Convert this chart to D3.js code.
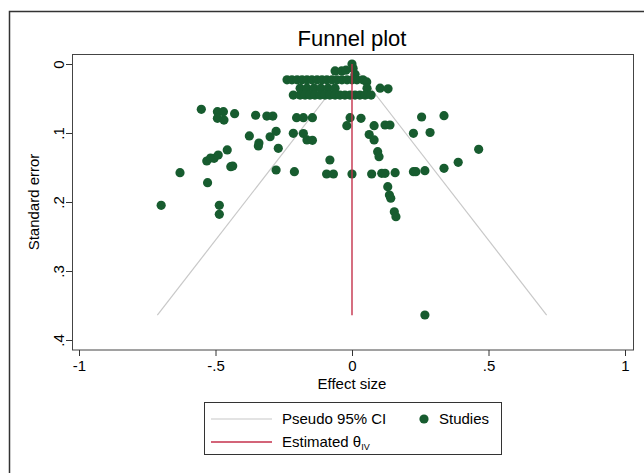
<!DOCTYPE html>
<html>
<head>
<meta charset="utf-8">
<script src="https://cdnjs.cloudflare.com/ajax/libs/d3/7.8.5/d3.min.js"></script>
<style>
  body { margin: 0; background: #fff; }
  text { font-family: "Liberation Sans", Arial, sans-serif; fill: #000; }
</style>
</head>
<body>
<div class="graph"></div>
<script>
// study effect sizes and standard errors
const effects = [
  0, 0.004, -0.062, -0.038, -0.022, 0.011,
  -0.238, -0.22, -0.201, -0.183, -0.165, -0.147, -0.128, -0.11, -0.092, -0.073, -0.055, -0.037, -0.018, 0, 0.018, 0.04, 0.054,
  -0.19, -0.165, -0.139, -0.114, -0.088, -0.062, 0.055, 0.103, 0.132,
  -0.215, -0.19, -0.172, -0.154, -0.136, -0.117, -0.099, -0.081, -0.062, -0.044, -0.026, -0.007, 0.011, 0.029, 0.048, 0.07,
  -0.552, -0.493, -0.471, -0.493, -0.469, -0.43, -0.353, -0.312, -0.29,
  -0.376, -0.3, -0.278, -0.341, -0.215, -0.178, -0.165, -0.145,
  -0.203, -0.178, -0.145, -0.343, -0.27, -0.457,
  -0.532, -0.518, -0.505, -0.49, -0.437, -0.444, -0.63, -0.529,
  -0.699, -0.486, -0.486, -0.278, -0.211, -0.081, -0.093, -0.068,
  -0.007, 0.033, -0.019, 0.081, 0.121, 0.139, 0.255, 0.337,
  0.225, 0.286, 0.063, 0.081,
  0, 0.072, 0.109, 0.121, 0.158, 0.225, 0.234, 0.267, 0.337, 0.389, 0.464,
  0.094, 0.099, 0.131, 0.137, 0.142, 0.155, 0.161, 0.267
];
const stdErrors = [
  0, 0.006, 0.01, 0.01, 0.009, 0.015,
  0.023, 0.023, 0.023, 0.023, 0.023, 0.023, 0.023, 0.023, 0.023, 0.023, 0.023, 0.023, 0.023, 0.023, 0.023, 0.023, 0.026,
  0.035, 0.035, 0.035, 0.035, 0.035, 0.035, 0.035, 0.035, 0.036,
  0.045, 0.045, 0.045, 0.045, 0.045, 0.045, 0.045, 0.045, 0.045, 0.045, 0.045, 0.045, 0.045, 0.045, 0.045, 0.045,
  0.0657, 0.0691, 0.0691, 0.0787, 0.0812, 0.072, 0.0743, 0.0754, 0.0754,
  0.1043, 0.1054, 0.0975, 0.1145, 0.1004, 0.1007, 0.1101, 0.1106,
  0.0778, 0.0778, 0.0778, 0.1188, 0.1222, 0.1246,
  0.1406, 0.1362, 0.1367, 0.1319, 0.1478, 0.1488, 0.1575, 0.172,
  0.2048, 0.2048, 0.2178, 0.1536, 0.1561, 0.1391, 0.1594, 0.1594,
  0.0778, 0.0787, 0.0894, 0.0894, 0.0884, 0.0884, 0.0768, 0.0749,
  0.1004, 0.0993, 0.1022, 0.1101,
  0.1594, 0.1594, 0.1584, 0.1584, 0.1575, 0.1561, 0.1561, 0.1546, 0.1512, 0.1425, 0.1236,
  0.1271, 0.1343, 0.1778, 0.1899, 0.1946, 0.2141, 0.2213, 0.3638
];
const xTicks = [-1, -0.5, 0, 0.5, 1];
const xTickLabels = ["-1", "-.5", "0", ".5", "1"];
const yTicks = [0, 0.1, 0.2, 0.3, 0.4];
const yTickLabels = ["0", ".1", ".2", ".3", ".4"];
// pseudo 95% CI end points and estimated effect
const ciLeft = [[0, 0], [-0.713, 0.364]];
const ciRight = [[0, 0], [0.713, 0.364]];
const thetaLine = [[0, 0], [0, 0.364]];

function main() {
  //setting
  const width = 644;
  const height = 473;
  const green = "#175c2f";
  const red = "#c4314b";
  const grey = "#c8c8c8";

  const svg = d3
    .select(".graph")
    .append("svg")
    .attr("width", width)
    .attr("height", height);

  //outer frame
  svg
    .append("path")
    .attr("d", "M9.5," + height + "V11.5H" + width)
    .attr("fill", "none")
    .attr("stroke", "#333")
    .attr("stroke-width", 1.5);

  //scales
  const xScale = d3.scaleLinear().domain([-1, 1]).range([79, 625]);
  const yScale = d3.scaleLinear().domain([0, 0.4]).range([64, 340]);

  //plot box
  svg
    .append("rect")
    .attr("x", 72.5)
    .attr("y", 54.5)
    .attr("width", 561)
    .attr("height", 295.5)
    .attr("fill", "none")
    .attr("stroke", "#444");

  //title
  svg
    .append("text")
    .attr("x", 352)
    .attr("y", 46)
    .attr("text-anchor", "middle")
    .style("font-size", "22px")
    .text("Funnel plot");

  //axes
  const xAxis = d3
    .axisBottom(xScale)
    .tickValues(xTicks)
    .tickSize(6)
    .tickPadding(4)
    .tickFormat((d, i) => xTickLabels[i]);
  const gx = svg
    .append("g")
    .attr("transform", "translate(0,350)")
    .call(xAxis);
  gx.select(".domain").remove();
  gx.selectAll("text").style("font-size", "15px");

  const yAxis = d3
    .axisLeft(yScale)
    .tickValues(yTicks)
    .tickSize(6)
    .tickFormat((d, i) => yTickLabels[i]);
  const gy = svg
    .append("g")
    .attr("transform", "translate(72,0)")
    .call(yAxis);
  gy.select(".domain").remove();
  gy.selectAll(".tick text")
    .attr("x", 0)
    .attr("dy", 0)
    .attr("text-anchor", "middle")
    .attr("transform", "translate(-8,0) rotate(-90)")
    .style("font-size", "15px");
  svg.selectAll(".tick line").attr("stroke", "#333");

  //axis titles
  svg
    .append("text")
    .attr("x", 352)
    .attr("y", 389)
    .attr("text-anchor", "middle")
    .style("font-size", "15px")
    .text("Effect size");
  svg
    .append("text")
    .attr("transform", "translate(39,202) rotate(-90)")
    .attr("text-anchor", "middle")
    .style("font-size", "15px")
    .text("Standard error");

  //funnel
  const line = d3
    .line()
    .x(d => xScale(d[0]))
    .y(d => yScale(d[1]));
  [ciLeft, ciRight].forEach(seg => {
    svg
      .append("path")
      .attr("d", line(seg))
      .attr("fill", "none")
      .attr("stroke", grey)
      .attr("stroke-width", 1.2);
  });

  //dots
  svg
    .selectAll("circle.dot")
    .data(effects)
    .enter()
    .append("circle")
    .attr("class", "dot")
    .attr("cx", d => xScale(d))
    .attr("cy", (d, i) => yScale(stdErrors[i]))
    .attr("r", 4.6)
    .style("fill", green);

  svg
    .append("path")
    .attr("d", line(thetaLine))
    .attr("fill", "none")
    .attr("stroke", red)
    .attr("stroke-width", 1.4);

  //legend
  const lg = svg.append("g");
  lg.append("rect")
    .attr("x", 204.5)
    .attr("y", 402.5)
    .attr("width", 297)
    .attr("height", 52)
    .attr("fill", "#fff")
    .attr("stroke", "#333");
  lg.append("line")
    .attr("x1", 211).attr("x2", 272)
    .attr("y1", 419).attr("y2", 419)
    .attr("stroke", grey).attr("stroke-width", 1.2);
  lg.append("line")
    .attr("x1", 211).attr("x2", 272)
    .attr("y1", 442).attr("y2", 442)
    .attr("stroke", red).attr("stroke-width", 1.4);
  lg.append("text")
    .attr("x", 282).attr("y", 424)
    .style("font-size", "15px")
    .text("Pseudo 95% CI");
  lg.append("circle")
    .attr("cx", 424).attr("cy", 419)
    .attr("r", 4.6)
    .style("fill", green);
  lg.append("text")
    .attr("x", 439).attr("y", 424)
    .style("font-size", "15px")
    .text("Studies");
  const est = lg.append("text")
    .attr("x", 282).attr("y", 447)
    .style("font-size", "15px");
  est.append("tspan").text("Estimated θ");
  est.append("tspan")
    .attr("dy", 3)
    .style("font-size", "9px")
    .text("IV");
}

main();
</script>
</body>
</html>
